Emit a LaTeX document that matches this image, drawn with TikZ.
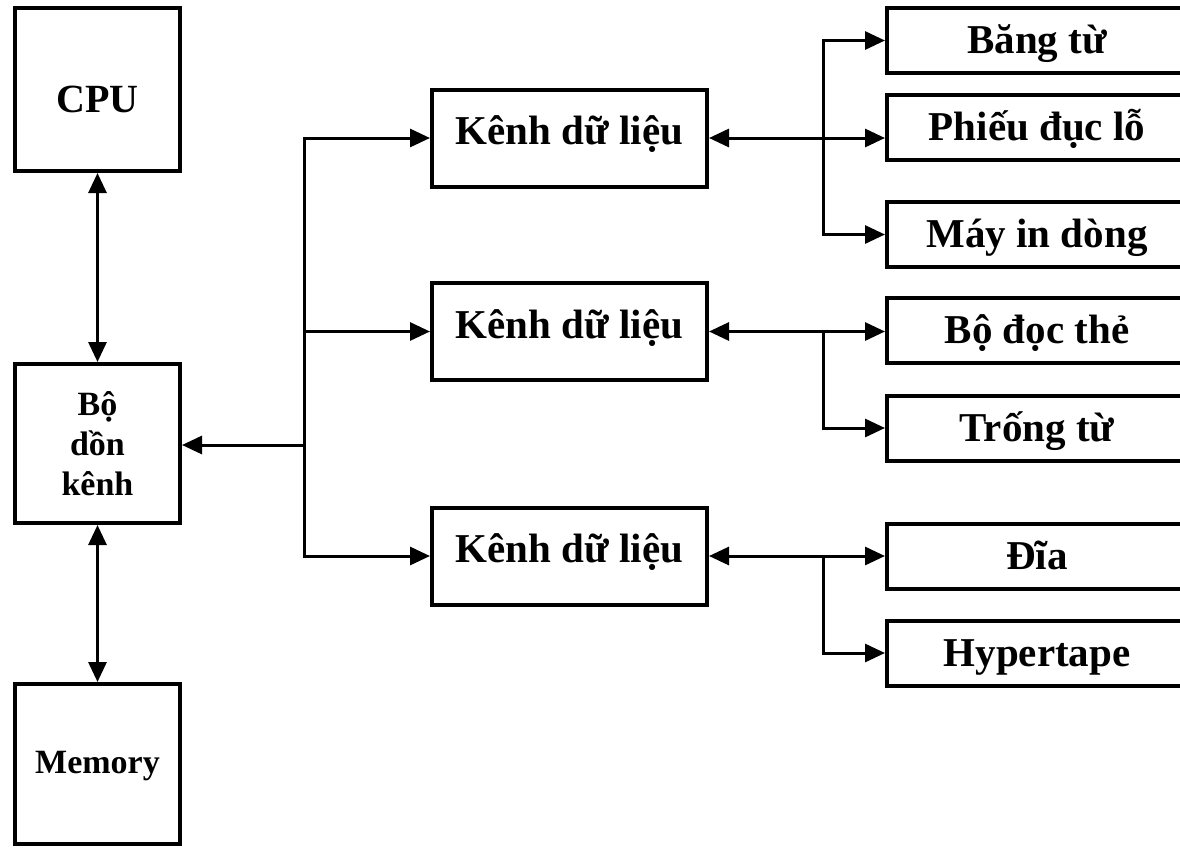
\documentclass[tikz,border=0pt]{standalone}
\usepackage{fontspec}
\setmainfont{Liberation Serif}
\usetikzlibrary{arrows.meta}
\begin{document}
\begin{tikzpicture}[x=1pt,y=-1pt,
  box/.style={draw,line width=4pt,inner sep=0pt,align=center,font=\bfseries\fontsize{41}{48}\selectfont},
  sidebox/.style={box,minimum width=165pt},
  chanbox/.style={box,minimum width=275pt,minimum height=97pt,text height=13pt,text depth=0pt},
  devbox/.style={box,minimum width=300pt,minimum height=65pt,text height=26pt,text depth=0pt},
  link/.style={line width=3pt},
  tip/.tip={Triangle[length=20pt,width=18pt]},
  one/.style={link,-tip},
  both/.style={link,tip-tip}]
\useasboundingbox (0,0) rectangle (1180,847);
\begin{scope}
\clip (0,0) rectangle (1180,847);

% left column: CPU, multiplexer, memory
\node[sidebox,minimum height=163pt,text height=46pt,text depth=0pt,font=\bfseries\fontsize{40}{48}\selectfont] (cpu) at (97.5,89.5) {CPU};
\node[sidebox,minimum height=159pt,font=\bfseries\fontsize{34}{40}\selectfont] (mux) at (97.5,443.5) {Bộ\\dồn\\kênh};
\node[sidebox,minimum height=160pt,text height=18pt,text depth=0pt,font=\bfseries\fontsize{34}{40}\selectfont] (mem) at (97.5,764) {Memory};

% data channels
\node[chanbox] (k1) at (569.5,138) {Kênh dữ liệu};
\node[chanbox] (k2) at (569.5,331.5) {Kênh dữ liệu};
\node[chanbox] (k3) at (569.5,556) {Kênh dữ liệu};

% peripheral devices
\node[devbox] (d1) at (1037,40.5) {Băng từ};
\node[devbox] (d2) at (1037,127) {Phiếu đục lỗ};
\node[devbox] (d3) at (1037,234.5) {Máy in dòng};
\node[devbox] (d4) at (1037,330.5) {Bộ đọc thẻ};
\node[devbox] (d5) at (1037,428) {Trống từ};
\node[devbox] (d6) at (1037,556.5) {Đĩa};
\node[devbox] (d7) at (1037,653) {Hypertape};
\end{scope}

% CPU <-> multiplexer <-> memory
\draw[both] (cpu.south) -- (mux.north);
\draw[both] (mux.south) -- (mem.north);

% channel bus
\coordinate (bus) at (304,445);
\coordinate (bus2) at (304,331.5);
\draw[one] (bus) -- (bus -| mux.east);
\draw[one] (bus) |- (k1.west);
\draw[one] (bus) |- (k3.west);
\draw[one] (bus2) -- (k2.west);

% channel 1 devices
\coordinate (j1) at (823,138);
\draw[both] (k1.east) -- (k1.east -| d2.west);
\draw[one] (j1) |- (d1.west);
\draw[one] (j1) |- (d3.west);

% channel 2 devices
\coordinate (j2) at (823,331.5);
\draw[both] (k2.east) -- (k2.east -| d4.west);
\draw[one] (j2) |- (d5.west);

% channel 3 devices
\coordinate (j3) at (823,556);
\draw[both] (k3.east) -- (k3.east -| d6.west);
\draw[one] (j3) |- (d7.west);
\end{tikzpicture}
\end{document}
